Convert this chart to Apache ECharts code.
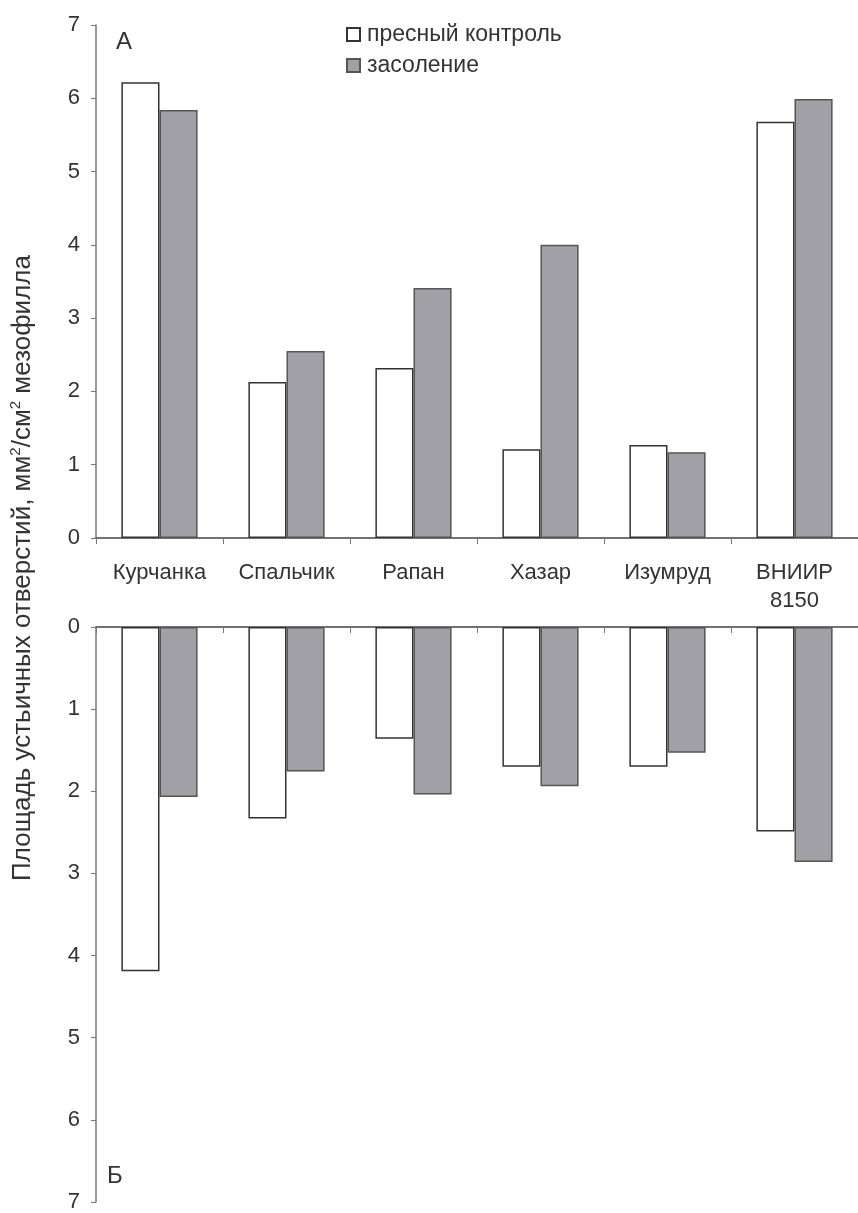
<!DOCTYPE html>
<html>
<head>
<meta charset="utf-8">
<script src="https://cdn.jsdelivr.net/npm/echarts@6/dist/echarts.min.js"></script>
<style>
  html, body { margin: 0; padding: 0; background: #fff; }
  #chart { width: 858px; height: 1213px; }
</style>
</head>
<body>
<div id="chart"></div>
<script>
// сорта
var categories = ['Курчанка', 'Спальчик', 'Рапан', 'Хазар', 'Изумруд', 'ВНИИР\n8150'];
// панель А
var controlA = [6.22, 2.13, 2.32, 1.21, 1.27, 5.68];
var salineA = [5.84, 2.55, 3.41, 4.0, 1.17, 5.99];
// панель Б
var controlB = [4.19, 2.33, 1.36, 1.70, 1.70, 2.49];
var salineB = [2.07, 1.76, 2.04, 1.94, 1.53, 2.86];
var yTicks = [0, 1, 2, 3, 4, 5, 6, 7];

var font = 'Liberation Sans, Arial, sans-serif';
var textColor = '#333';
var axisColor = '#777';

var whiteStyle = { color: '#ffffff', borderColor: '#333', borderWidth: 1.5 };
var grayStyle = { color: '#a0a0a6', borderColor: '#555', borderWidth: 1.5 };

function yAxis(idx, inverse) {
    return {
        type: 'value',
        gridIndex: idx,
        min: yTicks[0],
        max: yTicks[yTicks.length - 1],
        interval: 1,
        inverse: inverse,
        axisLine: { show: true, lineStyle: { color: axisColor, width: 1.5 } },
        axisTick: { show: true, length: 5, lineStyle: { color: axisColor } },
        axisLabel: { color: textColor, fontSize: 22, fontFamily: font, margin: 16 },
        splitLine: { show: false }
    };
}

var myChart = echarts.init(document.getElementById('chart'));

var option = {
    animation: false,
    backgroundColor: '#fff',
    legend: {
        orient: 'vertical',
        left: 341,
        top: 18,
        icon: 'rect',
        itemWidth: 13,
        itemHeight: 13,
        itemGap: 8,
        data: ['пресный контроль', 'засоление'],
        textStyle: { color: textColor, fontSize: 23, fontFamily: font, padding: [0, 0, 0, 2] }
    },
    grid: [
        { left: 96, top: 25, right: 0, height: 513 },
        { left: 96, top: 627, right: 0, height: 576 }
    ],
    xAxis: [
        {
            type: 'category',
            gridIndex: 0,
            data: categories,
            axisLine: { lineStyle: { color: '#444', width: 1.5 } },
            axisTick: { show: true, length: 6, lineStyle: { color: axisColor } },
            axisLabel: { color: textColor, fontSize: 22, fontFamily: font, margin: 21, lineHeight: 28 }
        },
        {
            type: 'category',
            gridIndex: 1,
            position: 'top',
            data: categories,
            axisLine: { lineStyle: { color: '#444', width: 1.5 } },
            axisTick: { show: true, inside: true, length: 6, lineStyle: { color: axisColor } },
            axisLabel: { show: false }
        }
    ],
    yAxis: [yAxis(0, false), yAxis(1, true)],
    series: [
        {
            name: 'пресный контроль', type: 'bar', xAxisIndex: 0, yAxisIndex: 0,
            data: controlA, itemStyle: whiteStyle, barGap: '0%', barCategoryGap: '40%'
        },
        {
            name: 'засоление', type: 'bar', xAxisIndex: 0, yAxisIndex: 0,
            data: salineA, itemStyle: grayStyle, barGap: '0%', barCategoryGap: '40%'
        },
        {
            name: 'пресный контроль', type: 'bar', xAxisIndex: 1, yAxisIndex: 1,
            data: controlB, itemStyle: whiteStyle, barGap: '0%', barCategoryGap: '40%'
        },
        {
            name: 'засоление', type: 'bar', xAxisIndex: 1, yAxisIndex: 1,
            data: salineB, itemStyle: grayStyle, barGap: '0%', barCategoryGap: '40%'
        }
    ],
    graphic: [
        {
            type: 'text', left: 116, top: 30,
            style: { text: 'А', fontSize: 24, fontFamily: font, fill: textColor }
        },
        {
            type: 'text', left: 107, top: 1164,
            style: { text: 'Б', fontSize: 24, fontFamily: font, fill: textColor }
        },
        {
            // подпись оси Y
            type: 'text', x: 22, y: 568, rotation: Math.PI / 2,
            style: {
                text: '{n|Площадь устьичных отверстий, мм}{s|2}{n|/см}{s|2}{n| мезофилла}',
                fontFamily: font, fill: textColor,
                align: 'center', verticalAlign: 'middle',
                rich: {
                    n: { fontSize: 26, fontFamily: font, fill: textColor, verticalAlign: 'bottom' },
                    s: { fontSize: 15, fontFamily: font, fill: textColor, verticalAlign: 'top', padding: [0, 0, 13, 0] }
                }
            }
        }
    ]
};

myChart.setOption(option);
</script>
</body>
</html>
